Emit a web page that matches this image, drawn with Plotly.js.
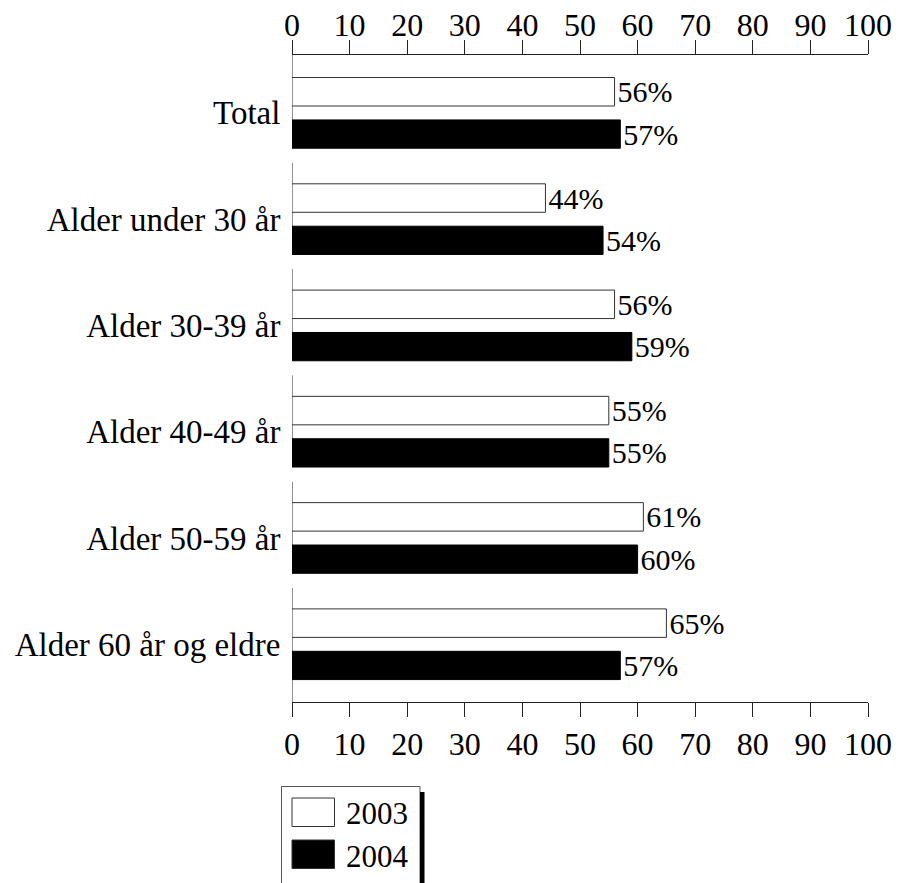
<!DOCTYPE html>
<html><head><meta charset="utf-8">
<script src="https://cdn.plot.ly/plotly-3.0.1.min.js"></script>
<style>body{margin:0;background:#fff}#chart{width:901px;height:883px}</style>
</head><body><div id="chart"></div>
<script>
const categories = ["Total", "Alder under 30 år", "Alder 30-39 år", "Alder 40-49 år", "Alder 50-59 år", "Alder 60 år og eldre"];
const seriesNames = ["2003", "2004"];
const values2003 = [56, 44, 56, 55, 61, 65];
const values2004 = [57, 54, 59, 55, 60, 57];
const xTickVals = [0, 10, 20, 30, 40, 50, 60, 70, 80, 90, 100];

const FONT = "'Liberation Serif', 'Times New Roman', Tinos, serif";
const W = 901, H = 883;
const M = {l: 292, r: 33, t: 55, b: 181};
const PW = W - M.l - M.r, PH = H - M.t - M.b;
const px2x = p => (p - M.l) / PW;
const px2y = p => (H - M.b - p) / PH;
const yRange = [5.543, -0.545];

const barCommon = {
  type: "bar", orientation: "h", y: categories,
  texttemplate: "%{x}%", textposition: "outside", cliponaxis: false,
  constraintext: "none",
  textfont: {family: FONT, size: 30, color: "#000"},
  hoverinfo: "skip", showlegend: false
};
const traces = [
  Object.assign({}, barCommon, {
    name: seriesNames[0], x: values2003, offset: -0.333, width: 0.268,
    marker: {color: "#ffffff", line: {color: "#333", width: 1}}
  }),
  Object.assign({}, barCommon, {
    name: seriesNames[1], x: values2004, offset: 0.066, width: 0.266,
    marker: {color: "#000000", line: {color: "#000", width: 1}}
  }),
  {type: "scatter", mode: "none", x: values2003, y: categories, xaxis: "x2", yaxis: "y",
   hoverinfo: "skip", showlegend: false}
];

// y-axis segments per category
const shapes = [];
categories.forEach((c, i) => {
  const y0 = i === 0 ? yRange[1] : i - 0.53;
  const y1 = i === categories.length - 1 ? yRange[0] : i + 0.332;
  shapes.push({type: "line", xref: "x", yref: "y", x0: 0, x1: 0, y0: y0, y1: y1,
    line: {color: "#222", width: 1}, layer: "below"});
});

// custom legend
const legendFills = ["#ffffff", "#000000"];
shapes.push({type: "rect", xref: "paper", yref: "paper",
  x0: px2x(281.5), x1: px2x(420), y0: px2y(786.5), y1: px2y(900),
  line: {color: "#555", width: 1}, fillcolor: "rgba(0,0,0,0)"});
shapes.push({type: "rect", xref: "paper", yref: "paper",
  x0: px2x(420), x1: px2x(424.5), y0: px2y(792), y1: px2y(900),
  line: {width: 0}, fillcolor: "#000"});
const annotations = [];
seriesNames.forEach((n, k) => {
  const top = 798 + k * 42;
  shapes.push({type: "rect", xref: "paper", yref: "paper",
    x0: px2x(292), x1: px2x(334.5), y0: px2y(top), y1: px2y(top + 28.5),
    line: {color: "#333", width: 1}, fillcolor: legendFills[k]});
  annotations.push({xref: "paper", yref: "paper", x: px2x(344), y: px2y(top + 16),
    xanchor: "left", yanchor: "middle", showarrow: false, text: n,
    font: {family: FONT, size: 31, color: "#000"}});
});

const axisCommon = {
  range: [0, 100], tickvals: xTickVals, ticks: "outside", ticklen: 14,
  tickcolor: "#222", tickwidth: 1, showline: true, linecolor: "#222", linewidth: 1,
  showgrid: false, zeroline: false, fixedrange: true,
  tickfont: {family: FONT, size: 32, color: "#000"}
};
const layout = {
  width: W, height: H, margin: M,
  paper_bgcolor: "#fff", plot_bgcolor: "#fff",
  font: {family: FONT, size: 31, color: "#000"},
  barmode: "overlay",
  xaxis: Object.assign({}, axisCommon, {side: "bottom"}),
  xaxis2: Object.assign({}, axisCommon, {side: "top", overlaying: "x", anchor: "y", matches: "x", ticklabelstandoff: -9}),
  yaxis: {type: "category", categoryorder: "array", categoryarray: categories,
    range: yRange, showline: false, showgrid: false, zeroline: false,
    ticks: "outside", ticklen: 4, tickcolor: "rgba(0,0,0,0)", fixedrange: true,
    tickfont: {family: FONT, size: 33, color: "#000"}},
  shapes: shapes, annotations: annotations, showlegend: false
};
Plotly.newPlot("chart", traces, layout, {staticPlot: true, displayModeBar: false});
</script></body></html>
